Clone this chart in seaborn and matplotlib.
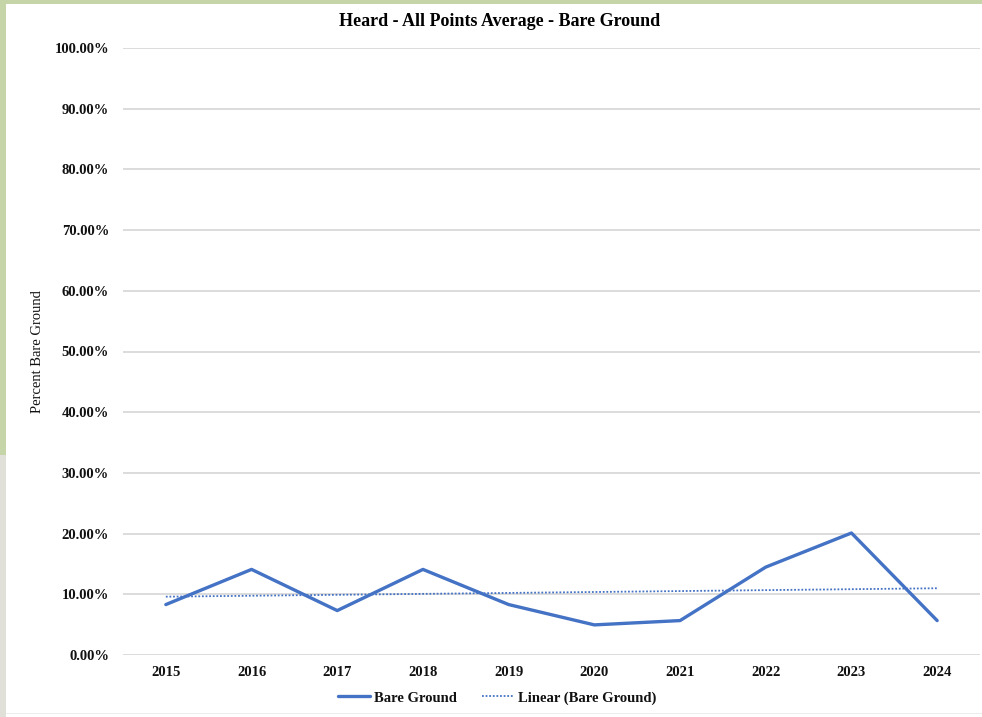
import numpy as np
import pandas as pd
import matplotlib
matplotlib.use("Agg")
import matplotlib.pyplot as plt
from matplotlib.patches import Rectangle
from matplotlib.ticker import FuncFormatter
import seaborn as sns

years = [2015, 2016, 2017, 2018, 2019, 2020, 2021, 2022, 2023, 2024]
bare_ground = [8.31, 14.1, 7.32, 14.1, 8.31, 4.96, 5.67, 14.48, 20.1, 5.67]
y_ticks = [0, 10, 20, 30, 40, 50, 60, 70, 80, 90, 100]
title = "Heard - All Points Average - Bare Ground"
y_label = "Percent Bare Ground"
series_name = "Bare Ground"
trend_name = "Linear (Bare Ground)"

sns.set_theme(style="white")
plt.rcParams["font.family"] = ["Liberation Serif", "DejaVu Serif"]
plt.rcParams["text.color"] = "#111111"
plt.rcParams["axes.labelcolor"] = "#111111"
plt.rcParams["xtick.color"] = "#111111"
plt.rcParams["ytick.color"] = "#111111"

df = pd.DataFrame({"year": years, "value": bare_ground})
coef = np.polyfit(df["year"], df["value"], 1)
df["trend"] = np.polyval(coef, df["year"])

color = "#4472C4"
fig = plt.figure(figsize=(9.82, 7.17), dpi=100)
fig.patch.set_facecolor("white")
# frame decoration
fig.patches.append(Rectangle((0, 0), 6 / 982, 262 / 717, transform=fig.transFigure,
                             facecolor="#e0e0d8", edgecolor="none", zorder=0))
fig.patches.append(Rectangle((0, 262 / 717), 6 / 982, 1, transform=fig.transFigure,
                             facecolor="#c5d5a8", edgecolor="none", zorder=0))
fig.patches.append(Rectangle((0, 1 - 4 / 717), 1, 4 / 717, transform=fig.transFigure,
                             facecolor="#c5d5a8", edgecolor="none", zorder=0))
fig.patches.append(Rectangle((6 / 982, 3 / 717), 1, 1.5 / 717, transform=fig.transFigure,
                             facecolor="#ececec", edgecolor="none", zorder=0))

ax = fig.add_axes([123 / 982, 1 - 655 / 717, (980 - 123) / 982, (655 - 48) / 717])
ax.set_facecolor("white")

sns.lineplot(data=df, x="year", y="value", ax=ax, color=color, linewidth=2.4,
             label=series_name, legend=False, zorder=3)
sns.lineplot(data=df, x="year", y="trend", ax=ax, color=color, linewidth=1.3,
             linestyle=(0, (1, 1)), label=trend_name, legend=False, zorder=2)

ax.set_xlim(2014.5, 2024.5)
ax.set_ylim(0, 100)
ax.set_yticks(y_ticks)
ax.yaxis.set_major_formatter(FuncFormatter(lambda v, p: f"{v:.2f}%"))
ax.set_xticks(years)
ax.set_xticklabels([str(y) for y in years])
ax.grid(axis="y", color="#d9d9d9", linewidth=1.3)
ax.grid(axis="x", visible=False)
ax.set_axisbelow(True)
for s in ax.spines.values():
    s.set_visible(False)
ax.tick_params(axis="both", length=0, labelsize=10.5)
ax.tick_params(axis="y", pad=10)
ax.tick_params(axis="x", pad=8)
for lab in ax.get_xticklabels() + ax.get_yticklabels():
    lab.set_fontweight("bold")
ax.set_xlabel("")
ax.set_ylabel(y_label, fontsize=10.5, labelpad=14)
ax.yaxis.set_label_coords(-79 / 857, 0.5)

fig.text(500 / 982, 1 - 22 / 717, title, ha="center", va="center", fontsize=13,
         fontweight="bold", color="black")

handles, labels = ax.get_legend_handles_labels()
leg = fig.legend(handles, labels, loc="center", bbox_to_anchor=(497 / 982, 1 - 698 / 717),
                 ncol=2, frameon=False, prop={"weight": "bold", "size": 10.5},
                 handlelength=2.2, columnspacing=1.7, handletextpad=0.3)

fig.savefig("out.png", dpi=100, facecolor="white")
